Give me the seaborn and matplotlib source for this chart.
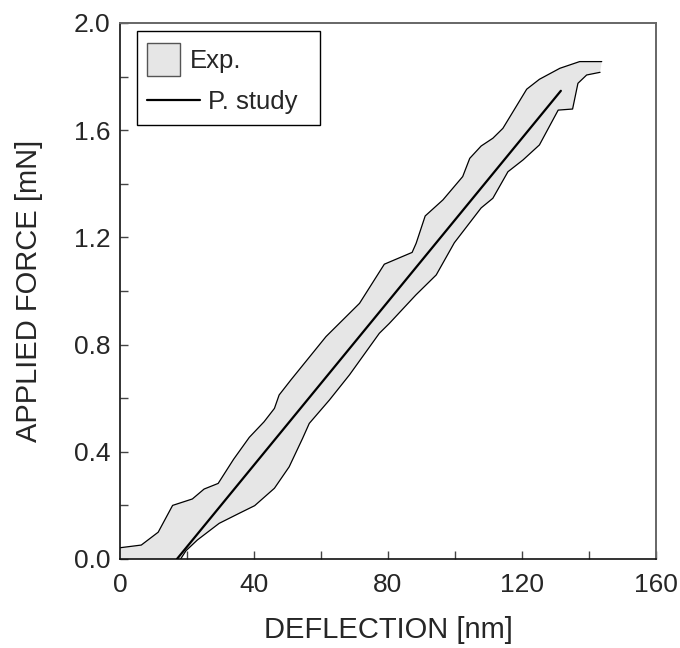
import numpy as np
import pandas as pd
import matplotlib
matplotlib.use("Agg")
import matplotlib.pyplot as plt
import seaborn as sns
from matplotlib.patches import Patch, Rectangle
from matplotlib.lines import Line2D
from matplotlib.legend_handler import HandlerPatch
from matplotlib.ticker import MultipleLocator, FormatStrFormatter

# Experimental band: upper and lower envelope
upper_x = [0.0, 6.35, 11.4, 15.7, 21.6, 25.1, 29.3, 33.9, 38.6, 43.0, 46.1, 47.5, 51.0,
           61.5, 71.5, 78.9, 87.2, 88.4, 91.1, 96.4, 102.3, 104.4, 107.8, 111.3, 114.3,
           121.4, 125.2, 131.3, 137.2, 143.8]
upper_y = [0.042, 0.052, 0.10, 0.20, 0.224, 0.261, 0.282, 0.372, 0.454, 0.512, 0.562, 0.612, 0.668,
           0.830, 0.954, 1.10, 1.144, 1.178, 1.28, 1.34, 1.427, 1.495, 1.541, 1.57, 1.607,
           1.753, 1.79, 1.831, 1.856, 1.856]

lower_x = [18.1, 19.7, 23.1, 29.6, 35.5, 40.2, 46.1, 50.5, 54.5, 56.5, 62.5, 68.5, 77.4,
           80.4, 88.3, 94.4, 99.8, 107.8, 111.3, 115.8, 120.3, 125.2, 130.8, 135.1, 136.7,
           139.3, 143.3]
lower_y = [0.0, 0.031, 0.071, 0.133, 0.17, 0.199, 0.264, 0.344, 0.45, 0.506, 0.593, 0.687, 0.842,
           0.879, 0.985, 1.06, 1.18, 1.31, 1.346, 1.445, 1.489, 1.545, 1.675, 1.679, 1.775,
           1.806, 1.816]

# Present study (linear)
study_x = [17.0, 131.6]
study_y = [0.0, 1.747]

x_ticks = [0, 40, 80, 120, 160]
y_ticks = [0.0, 0.4, 0.8, 1.2, 1.6, 2.0]

sns.set_theme(style="ticks")
plt.rcParams['font.family'] = ['Liberation Sans', 'DejaVu Sans']

fig = plt.figure(figsize=(6.8, 6.48), dpi=100)
ax = fig.add_axes([120 / 680, 89 / 648, 536 / 680, 536 / 648])

BAND = "#e6e6e6"

# band polygon
poly_x = list(upper_x) + list(lower_x[::-1]) + [0.0]
poly_y = list(upper_y) + list(lower_y[::-1]) + [0.0]
ax.fill(poly_x, poly_y, color=BAND, lw=0, zorder=1)

up = pd.DataFrame({"x": upper_x, "y": upper_y})
lo = pd.DataFrame({"x": lower_x, "y": lower_y})
st = pd.DataFrame({"x": study_x, "y": study_y})
sns.lineplot(data=up, x="x", y="y", ax=ax, color="black", lw=0.9, sort=False, estimator=None, zorder=2)
sns.lineplot(data=lo, x="x", y="y", ax=ax, color="black", lw=0.9, sort=False, estimator=None, zorder=2)
sns.lineplot(data=st, x="x", y="y", ax=ax, color="black", lw=1.6, sort=False, estimator=None, zorder=3)

ax.set_xlim(0, 160)
ax.set_ylim(0, 2.0)
ax.set_xticks(x_ticks)
ax.set_yticks(y_ticks)
ax.xaxis.set_minor_locator(MultipleLocator(20))
ax.yaxis.set_minor_locator(MultipleLocator(0.2))
ax.yaxis.set_major_formatter(FormatStrFormatter('%.1f'))
ax.tick_params(axis='both', which='both', direction='in', length=6, width=1,
               color='#444444', labelsize=19, top=False, right=False)
ax.tick_params(axis='y', which='both', pad=7)
ax.tick_params(axis='x', which='both', pad=10)

ax.set_xlabel("DEFLECTION [nm]", fontsize=21, labelpad=14)
ax.set_ylabel("APPLIED FORCE [mN]", fontsize=21, labelpad=22)

for s in ["left", "bottom"]:
    ax.spines[s].set_color("#111111")
    ax.spines[s].set_linewidth(1.2)
for s in ["top", "right"]:
    ax.spines[s].set_color("#666666")
    ax.spines[s].set_linewidth(1.4)

# Legend: frame + two rows
FS = 18.5


def square_patch(legend, orig_handle, xdescent, ydescent, width, height, fontsize):
    return Rectangle((-xdescent, -ydescent), height, height)


frame = Rectangle((17.3 / 536, (559 - 125) / 536), 182.7 / 536, 94 / 536,
                  transform=ax.transAxes, facecolor="white", edgecolor="black", lw=1, zorder=4)
ax.add_patch(frame)

legA = ax.legend(handles=[Patch(facecolor=BAND, edgecolor="#555555", lw=1, label="Exp.")],
                 handler_map={Patch: HandlerPatch(patch_func=square_patch)},
                 loc="center left", bbox_to_anchor=(26.7 / 536, (559 - 59.2) / 536),
                 borderaxespad=0, borderpad=0, fontsize=FS, frameon=False,
                 handlelength=24 / FS, handleheight=1.62, handletextpad=0.39)
ax.add_artist(legA)
legB = ax.legend(handles=[Line2D([0], [0], color="black", lw=1.6, label="P. study")],
                 loc="center left", bbox_to_anchor=(27.0 / 536, (559 - 101.7) / 536),
                 borderaxespad=0, borderpad=0, fontsize=FS, frameon=False,
                 handlelength=38.5 / FS, handletextpad=0.28)

fig.savefig("out.png", dpi=100)
